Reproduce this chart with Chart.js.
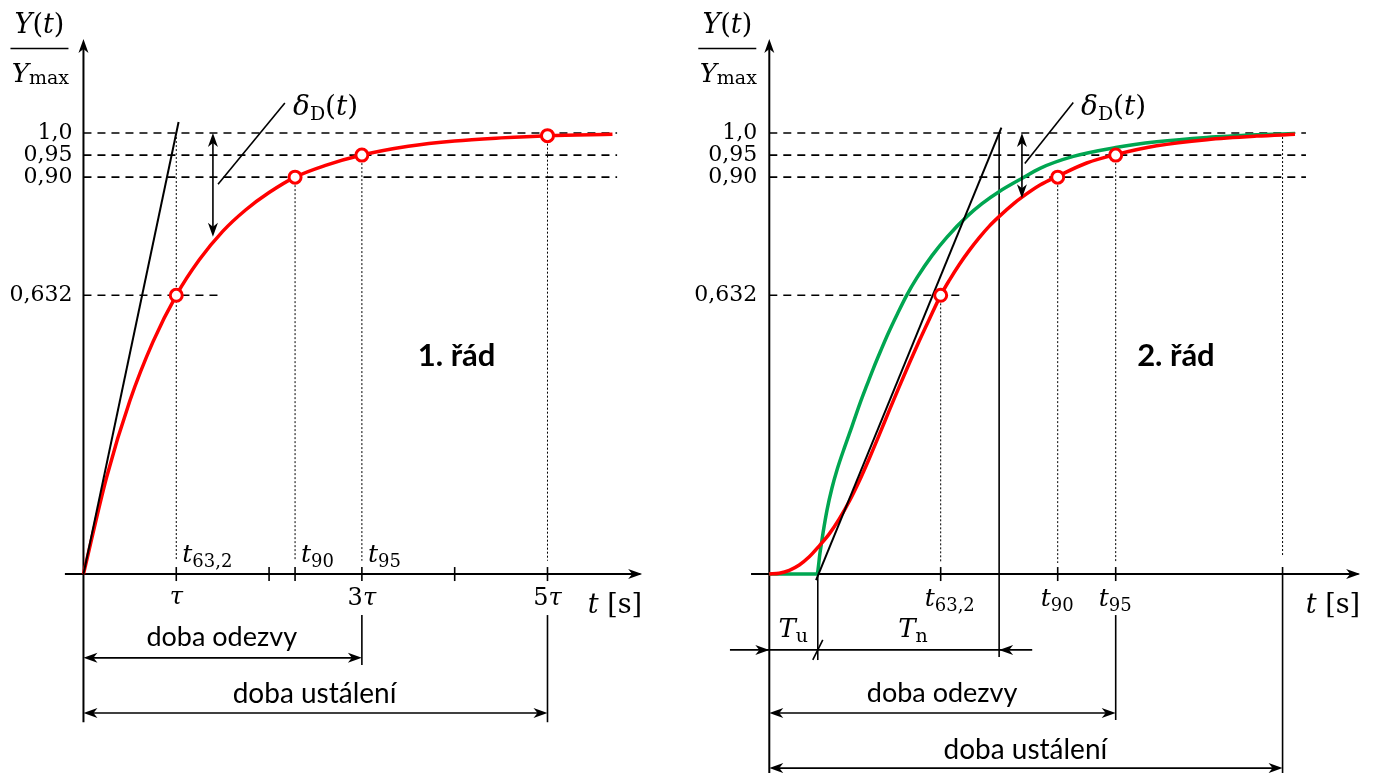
<!DOCTYPE html>
<html>
<head>
<meta charset="utf-8">
<script src="https://cdn.jsdelivr.net/npm/chart.js@4.4.0/dist/chart.umd.min.js"></script>
<style>
  body { margin: 0; background: #fff; width: 1377px; height: 773px; overflow: hidden; position: relative; }
  canvas { position: absolute; top: 0; }
</style>
</head>
<body>
<canvas id="c1" width="688" height="773" style="left:0"></canvas>
<canvas id="c2" width="689" height="773" style="left:688px"></canvas>
<script>
// hladiny odezvy (spolecne pro oba grafy)
const levels = [1.0, 0.95, 0.90, 0.632];
const levelLabels = ['1,0', '0,95', '0,90', '0,632'];

// 1. rad - cas v nasobcich tau
const leftT = [0, 0.25, 0.5, 0.75, 1.0, 1.25, 1.5, 1.75, 2.0, 2.28, 2.6, 3.0, 3.5, 4.0, 4.5, 5.0, 5.7];
const leftY = [0, 0.22, 0.393, 0.527, 0.632, 0.713, 0.777, 0.826, 0.865, 0.90, 0.926, 0.95, 0.970, 0.982, 0.989, 0.994, 0.997];
const leftMarkT = [1.0, 2.28, 3.0, 5.0];
const leftMarkY = [0.632, 0.90, 0.95, 0.994];
const leftTangentT = [0, 1.025];
const leftTangentY = [0, 1.025];
const leftTicks = [1, 2, 2.28, 3, 4, 5];

// 2. rad - cas v libovolnych jednotkach
const rightT = [0, 0.175, 0.351, 0.526, 0.701, 0.877, 1.052, 1.227, 1.403, 1.578, 1.753, 1.929, 2.104, 2.279, 2.455, 2.630, 2.806,
                3.005, 3.156, 3.332, 3.507, 3.682, 3.858, 4.033, 4.296, 4.426, 4.747, 5.057, 5.565, 6.074, 6.793, 7.670, 8.546, 9.218];
const rightRed = [0, 0.002, 0.0085, 0.0205, 0.039, 0.064, 0.091, 0.125, 0.165, 0.211, 0.262, 0.316, 0.371, 0.425, 0.478, 0.529, 0.578,
                  0.632, 0.666, 0.702, 0.734, 0.763, 0.789, 0.811, 0.841, 0.854, 0.882, 0.902, 0.932, 0.951, 0.971, 0.985, 0.993, 0.997];
const greenT = [0, 0.836, 0.889, 0.942, 1.012, 1.099, 1.187, 1.327, 1.450, 1.590, 1.713, 1.824, 1.959, 2.086, 2.239, 2.409,
                2.590, 2.853, 3.116, 3.467, 3.730, 4.028, 4.427, 4.747, 5.331, 6.074, 6.793, 7.670, 8.547, 9.218];
const greenY = [0, 0, 0.048, 0.093, 0.145, 0.195, 0.236, 0.29, 0.335, 0.387, 0.429, 0.466, 0.508, 0.546, 0.588, 0.632,
                0.672, 0.722, 0.764, 0.811, 0.840, 0.867, 0.897, 0.920, 0.947, 0.967, 0.980, 0.990, 0.996, 0.999];
const rightMarkT = [3.005, 5.057, 6.074];
const rightMarkY = [0.632, 0.90, 0.95];
const rightTangentT = [0.82, 4.07];
const rightTangentY = [-0.014, 1.012];
const Tu = 0.85, TuTn = 4.03, tSettle = 9.0;

const SERIF = '"DejaVu Serif", "Liberation Serif", serif';
const SANS = 'Lato, "Open Sans", sans-serif';
const RED = '#ff0000', GREEN = '#00a651';

const pts = (xs, ys) => xs.map((x, i) => ({ x: x, y: ys[i] }));

function seg(ctx, x1, y1, x2, y2, w, dash) {
    ctx.save();
    ctx.lineWidth = w;
    ctx.strokeStyle = '#000';
    ctx.setLineDash(dash || []);
    ctx.beginPath();
    ctx.moveTo(x1, y1);
    ctx.lineTo(x2, y2);
    ctx.stroke();
    ctx.restore();
}

function head(ctx, x, y, ang) {
    ctx.save();
    ctx.translate(x, y);
    ctx.rotate(ang);
    ctx.fillStyle = '#000';
    ctx.beginPath();
    ctx.moveTo(0, 0);
    ctx.lineTo(-14, -5);
    ctx.lineTo(-10, 0);
    ctx.lineTo(-14, 5);
    ctx.closePath();
    ctx.fill();
    ctx.restore();
}

// parts: [text, font, dy]
function rich(ctx, parts, x, y, align) {
    let w = 0;
    parts.forEach(p => { ctx.font = p[1]; w += ctx.measureText(p[0]).width; });
    let cx = align === 'center' ? x - w / 2 : align === 'right' ? x - w : x;
    ctx.fillStyle = '#000';
    ctx.textAlign = 'left';
    ctx.textBaseline = 'alphabetic';
    parts.forEach(p => {
        ctx.font = p[1];
        ctx.fillText(p[0], cx, y + (p[2] || 0));
        cx += ctx.measureText(p[0]).width;
    });
    return w;
}

const it = s => 'italic ' + s + 'px ' + SERIF;
const up = s => s + 'px ' + SERIF;

function yTitle(ctx, cx) {
    rich(ctx, [['Y', it(27)], ['(', up(27)], ['t', it(27)], [')', up(27)]], cx, 33, 'center');
    seg(ctx, cx - 29, 48.5, cx + 29, 48.5, 1.6);
    rich(ctx, [['Y', it(26)], ['max', up(19), 2]], cx + 1, 82, 'center');
}

function levelLabelsDraw(ctx, Y, right) {
    levels.forEach((lv, i) => rich(ctx, [[levelLabels[i], up(22)]], right, Y(lv) + 6, 'right'));
}

function deltaLabel(ctx, x, y) {
    rich(ctx, [['δ', it(28)], ['D', up(19), 5], ['(', up(28)], ['t', it(28)], [')', up(28)]], x, y, 'left');
}

function tLabel(ctx, sub, x, y) {
    rich(ctx, [['t', it(25)], [sub, up(18), 5]], x, y, 'left');
}

const leftGuides = {
    id: 'leftGuides',
    beforeDatasetsDraw(chart) {
        const ctx = chart.ctx;
        const X = v => chart.scales.x.getPixelForValue(v);
        const Y = v => chart.scales.y.getPixelForValue(v);
        // carkovane hladiny
        levels.forEach((lv, i) => seg(ctx, X(0), Y(lv), X(i < 3 ? 5.75 : 1.45), Y(lv), 1.6, [8, 6]));
        // teckovane svislice
        leftMarkT.forEach((t, i) => seg(ctx, X(t), Y(i === 0 ? 1.0 : leftMarkY[i]), X(t), Y(0.03), 1, [2, 2]));
        // osy
        seg(ctx, X(0), Y(-0.336), X(0), Y(1.2), 2);
        head(ctx, X(0), Y(1.213), -Math.PI / 2);
        seg(ctx, X(-0.2), Y(0), X(6.0), Y(0), 2);
        head(ctx, X(6.02), Y(0), 0);
        leftTicks.forEach(t => seg(ctx, X(t), Y(0) - 7, X(t), Y(0) + 7, 1.6));
    },
    afterDatasetsDraw(chart) {
        const ctx = chart.ctx;
        const X = v => chart.scales.x.getPixelForValue(v);
        const Y = v => chart.scales.y.getPixelForValue(v);
        yTitle(ctx, X(0) - 44);
        levelLabelsDraw(ctx, Y, X(0) - 11);
        // delta
        seg(ctx, X(1.395), Y(1.0) + 4, X(1.395), Y(0.765) - 4, 1.6);
        head(ctx, X(1.395), Y(1.0), -Math.PI / 2);
        head(ctx, X(1.395), Y(0.765), Math.PI / 2);
        seg(ctx, X(1.45), Y(0.884), X(2.17), Y(1.068), 1.6);
        deltaLabel(ctx, X(2.258), Y(1.041));
        // popisky casu
        tLabel(ctx, '63,2', X(1.0) + 6, Y(0) - 12);
        tLabel(ctx, '90', X(2.28) + 6, Y(0) - 12);
        tLabel(ctx, '95', X(3.0) + 6, Y(0) - 12);
        rich(ctx, [['τ', it(24)]], X(1), Y(0) + 30, 'center');
        rich(ctx, [['3', up(24)], ['τ', it(24)]], X(3), Y(0) + 31, 'center');
        rich(ctx, [['5', up(24)], ['τ', it(24)]], X(5), Y(0) + 31, 'center');
        rich(ctx, [['t', it(27)], [' [s]', up(27)]], X(6.02), Y(0) + 39, 'right');
        // rad
        ctx.font = 'bold 31px ' + SANS;
        ctx.textAlign = 'center'; ctx.textBaseline = 'middle';
        ctx.fillText('1. řád', X(4.02), Y(0.494));
        // doby
        seg(ctx, X(3), Y(-0.093), X(3), Y(-0.206), 1.6);
        seg(ctx, X(5), Y(-0.093), X(5), Y(-0.336), 1.6);
        seg(ctx, X(0) + 4, Y(-0.19), X(3) - 4, Y(-0.19), 1.6);
        head(ctx, X(0), Y(-0.19), Math.PI);
        head(ctx, X(3), Y(-0.19), 0);
        seg(ctx, X(0) + 4, Y(-0.315), X(5) - 4, Y(-0.315), 1.6);
        head(ctx, X(0), Y(-0.315), Math.PI);
        head(ctx, X(5), Y(-0.315), 0);
        ctx.font = '27px ' + SANS;
        ctx.textAlign = 'center'; ctx.textBaseline = 'middle';
        ctx.fillText('doba odezvy', X(1.49), Y(-0.143));
        ctx.font = '28px ' + SANS;
        ctx.fillText('doba ustálení', X(2.49), Y(-0.272));
    }
};

const rightGuides = {
    id: 'rightGuides',
    beforeDatasetsDraw(chart) {
        const ctx = chart.ctx;
        const X = v => chart.scales.x.getPixelForValue(v);
        const Y = v => chart.scales.y.getPixelForValue(v);
        levels.forEach((lv, i) => seg(ctx, X(0), Y(lv), X(i < 3 ? 9.41 : 3.34), Y(lv), 1.6, [8, 6]));
        rightMarkT.forEach((t, i) => seg(ctx, X(t), Y(rightMarkY[i]), X(t), Y(0.025), 1, [2, 2]));
        seg(ctx, X(tSettle), Y(1.0), X(tSettle), Y(0.04), 1, [2, 2]);
        // osy
        seg(ctx, X(0), Y(-0.46), X(0), Y(1.2), 2);
        head(ctx, X(0), Y(1.213), -Math.PI / 2);
        seg(ctx, X(-0.32), Y(0), X(10.33), Y(0), 2);
        head(ctx, X(10.36), Y(0), 0);
        rightMarkT.forEach(t => seg(ctx, X(t), Y(0) - 7, X(t), Y(0) + 7, 1.6));
        // svislice Tu, Tu+Tn, ustaleni
        seg(ctx, X(Tu), Y(0), X(Tu), Y(-0.195), 1.6);
        seg(ctx, X(TuTn), Y(1.0), X(TuTn), Y(-0.188), 1.6);
        seg(ctx, X(tSettle), Y(0.016), X(tSettle), Y(-0.46), 1.6);
    },
    afterDatasetsDraw(chart) {
        const ctx = chart.ctx;
        const X = v => chart.scales.x.getPixelForValue(v);
        const Y = v => chart.scales.y.getPixelForValue(v);
        yTitle(ctx, X(0) - 42);
        levelLabelsDraw(ctx, Y, X(0) - 12);
        // delta
        seg(ctx, X(4.43), Y(1.0) + 4, X(4.43), Y(0.852) - 4, 1.6);
        head(ctx, X(4.43), Y(1.0), -Math.PI / 2);
        head(ctx, X(4.43), Y(0.852), Math.PI / 2);
        seg(ctx, X(4.48), Y(0.931), X(5.33), Y(1.069), 1.6);
        deltaLabel(ctx, X(5.466), Y(1.041));
        // popisky casu
        tLabel(ctx, '63,2', X(3.005) - 16, Y(0) + 32);
        tLabel(ctx, '90', X(5.057) - 17, Y(0) + 32);
        tLabel(ctx, '95', X(6.074) - 17, Y(0) + 32);
        rich(ctx, [['t', it(27)], [' [s]', up(27)]], X(10.36), Y(0) + 39, 'right');
        ctx.font = 'bold 31px ' + SANS;
        ctx.textAlign = 'center'; ctx.textBaseline = 'middle';
        ctx.fillText('2. řád', X(7.13), Y(0.494));
        // Tu, Tn
        const yT = Y(-0.172);
        seg(ctx, X(-0.69), yT, X(4.61), yT, 1.6);
        head(ctx, X(0), yT, 0);
        head(ctx, X(TuTn), yT, Math.PI);
        seg(ctx, X(Tu) - 5, yT + 10, X(Tu) + 5, yT - 10, 1.6);
        rich(ctx, [['T', it(26)], ['u', up(19), 5]], X(0.42), Y(-0.122) + 9, 'center');
        rich(ctx, [['T', it(26)], ['n', up(19), 5]], X(2.52), Y(-0.122) + 9, 'center');
        // doby
        seg(ctx, X(6.074), Y(-0.093), X(6.074), Y(-0.331), 1.6);
        seg(ctx, X(0) + 4, Y(-0.315), X(6.074) - 4, Y(-0.315), 1.6);
        head(ctx, X(0), Y(-0.315), Math.PI);
        head(ctx, X(6.074), Y(-0.315), 0);
        seg(ctx, X(0) + 4, Y(-0.44), X(tSettle) - 4, Y(-0.44), 1.6);
        head(ctx, X(0), Y(-0.44), Math.PI);
        head(ctx, X(tSettle), Y(-0.44), 0);
        ctx.font = '27px ' + SANS;
        ctx.textAlign = 'center'; ctx.textBaseline = 'middle';
        ctx.fillText('doba odezvy', X(3.03), Y(-0.27));
        ctx.font = '28px ' + SANS;
        ctx.fillText('doba ustálení', X(4.49), Y(-0.399));
    }
};

function baseOptions(xmin, xmax, pad) {
    return {
        responsive: false,
        animation: false,
        events: [],
        layout: { padding: pad },
        plugins: { legend: { display: false }, tooltip: { enabled: false } },
        scales: {
            x: { type: 'linear', min: xmin, max: xmax, display: false },
            y: { type: 'linear', min: -0.35, max: 1.22, display: false }
        }
    };
}

const markerStyle = {
    showLine: false, pointRadius: 6, pointBorderWidth: 3,
    pointBorderColor: RED, pointBackgroundColor: '#fff', order: 0
};

new Chart(document.getElementById('c1'), {
    type: 'scatter',
    data: {
        datasets: [
            Object.assign({ data: pts(leftMarkT, leftMarkY) }, markerStyle),
            { data: pts(leftTangentT, leftTangentY), showLine: true, borderColor: '#000', borderWidth: 2, pointRadius: 0, order: 1 },
            { data: pts(leftT, leftY), showLine: true, borderColor: RED, borderWidth: 3.5, pointRadius: 0, cubicInterpolationMode: 'monotone', order: 2 }
        ]
    },
    options: baseOptions(-0.2, 6.0, { left: 64.9, right: 47.7, top: 36, bottom: 44.6 }),
    plugins: [leftGuides]
});

new Chart(document.getElementById('c2'), {
    type: 'scatter',
    data: {
        datasets: [
            Object.assign({ data: pts(rightMarkT, rightMarkY) }, markerStyle),
            { data: pts(rightTangentT, rightTangentY), showLine: true, borderColor: '#000', borderWidth: 2, pointRadius: 0, order: 1 },
            { data: pts(rightT, rightRed), showLine: true, borderColor: RED, borderWidth: 3.5, pointRadius: 0, cubicInterpolationMode: 'monotone', order: 2 },
            { data: pts(greenT, greenY), showLine: true, borderColor: GREEN, borderWidth: 3.5, pointRadius: 0, cubicInterpolationMode: 'monotone', order: 3 }
        ]
    },
    options: baseOptions(-0.32, 10.37, { left: 63.05, right: 16.3, top: 36, bottom: 44.6 }),
    plugins: [rightGuides]
});
</script>
</body>
</html>
